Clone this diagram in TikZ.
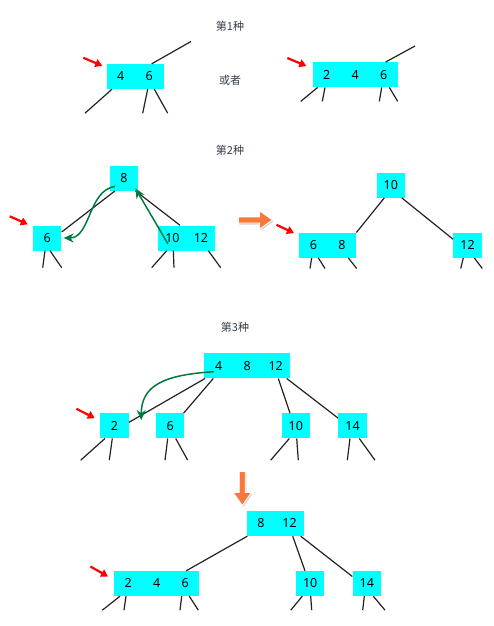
\documentclass[tikz,border=0pt]{standalone}
\usepackage{fontspec}
\setmainfont{Noto Sans}
\newfontfamily\cjk{Noto Sans CJK SC}
\usetikzlibrary{arrows.meta,shapes.arrows,shadows}
\definecolor{keyfill}{RGB}{0,255,255}
\definecolor{linkgray}{RGB}{34,34,34}
\definecolor{movegreen}{RGB}{0,122,61}
\definecolor{bigorange}{RGB}{246,121,58}
\definecolor{captgray}{RGB}{52,60,72}
\newcommand{\kc}[1]{\makebox[28.5pt]{#1}}
\tikzset{
  bnode/.style={fill=keyfill,inner sep=0pt,minimum width=28.5pt,minimum height=25pt,font=\fontsize{12.5}{14}\selectfont},
  link/.style={draw=linkgray,line width=1.2pt},
  redptr/.style={draw=red,line width=2.2pt,-{Triangle[width=8pt,length=7pt]}},
  movearr/.style={draw=movegreen,line width=1.5pt,-{Stealth[width=9pt,length=10pt]}},
  bigarr/.style={single arrow,fill=bigorange,draw=white,line width=0.8pt,minimum height=34pt,inner xsep=0pt,inner ysep=2.6pt,single arrow head extend=6pt,single arrow tip angle=70,drop shadow={opacity=0.35,shadow xshift=1pt,shadow yshift=-1.5pt}},
  capt/.style={font=\cjk\fontsize{11}{13}\selectfont,text=captgray}
}
\begin{document}
\begin{tikzpicture}[x=1pt,y=-1pt]
\useasboundingbox (0,0) rectangle (494,626);

\node[capt] (t1) at (230,26) {第1种};
\node[capt] (alt) at (230,80) {或者};
\node[bnode] (a46) at (135,76.5) {\kc{4}\kc{6}};
\node[bnode] (b246) at (355.3,74.7) {\kc{2}\kc{4}\kc{6}};
\draw[link] ([xshift=16.7pt]a46.north) -- ++(39.3,-22.3);
\draw[link] ([xshift=-23pt]a46.south) -- ++(-27,24);
\draw[link] ([xshift=12.7pt]a46.south) -- ++(-5,24);
\draw[link] ([xshift=19.3pt]a46.south) -- ++(13.4,24);
\draw[link] ([xshift=30.4pt]b246.north) -- ++(29.3,-16);
\draw[link] ([xshift=-37.6pt]b246.south) -- ++(-17,14);
\draw[link] ([xshift=-30.3pt]b246.south) -- ++(-2.7,14);
\draw[link] ([xshift=26.4pt]b246.south) -- ++(-2.4,14);
\draw[link] ([xshift=34pt]b246.south) -- ++(8.4,14);
\draw[redptr] ([shift={(-23pt,6pt)}]a46.north west) -- ([shift={(-4pt,-2pt)}]a46.north west);
\draw[redptr] ([shift={(-25pt,4pt)}]b246.north west) -- ([shift={(-6pt,-4pt)}]b246.north west);

\node[capt] (t2) at (230,150) {第2种};
\node[bnode] (n8) at (124,178.2) {8};
\node[bnode] (n6) at (47.2,238) {6};
\node[bnode] (n1012) at (186.7,238) {\kc{10}\kc{12}};
\draw[link] ([xshift=-9pt]n8.south) -- ([yshift=6pt]n6.east);
\draw[link] ([xshift=11.5pt]n8.south) -- ([xshift=-6.7pt]n1012.north);
\draw[link] ([xshift=-2.2pt]n6.south) -- ++(-2.3,17);
\draw[link] ([xshift=2.8pt]n6.south) -- ++(11.7,17);
\draw[link] ([xshift=-20pt]n1012.south) -- ++(-15,17);
\draw[link] ([xshift=-13.4pt]n1012.south) -- ++(0.7,17);
\draw[link] ([xshift=21.6pt]n1012.south) -- ++(12.4,17);
\draw[movearr] ([shift={(-9pt,4.5pt)}]n8.south) .. controls +(-27,4) and +(27,0) .. ([xshift=2pt]n6.east);
\draw[movearr] ([shift={(-18.7pt,-6pt)}]n1012.center) -- ([shift={(-3pt,2.5pt)}]n8.south east);
\draw[redptr] ([shift={(-23pt,9pt)}]n6.north west) -- ([shift={(-5pt,1pt)}]n6.north west);

\node[bigarr] (go1) at (253.3,220) {};
\node[bnode] (m10) at (390.8,185.2) {10};
\node[bnode] (m68) at (327.7,245.2) {\kc{6}\kc{8}};
\node[bnode] (m12) at (467.5,245.2) {12};
\draw[link] ([xshift=-6.5pt]m10.south) -- (m68.north east);
\draw[link] ([xshift=11pt]m10.south) -- ([yshift=6pt]m12.west);
\draw[link] ([xshift=-16pt]m68.south) -- ++(-1.7,10.6);
\draw[link] ([xshift=-9.4pt]m68.south) -- ++(6.7,10.6);
\draw[link] ([xshift=20.6pt]m68.south) -- ++(8.4,10.6);
\draw[link] ([xshift=-4.2pt]m12.south) -- ++(-2.6,10.6);
\draw[link] ([xshift=6.8pt]m12.south) -- ++(8,10.6);
\draw[redptr] ([shift={(-22.5pt,7.7pt)}]m68.north west) -- ([shift={(-5pt,-0.6pt)}]m68.north west);

\node[capt] (t3) at (235,327) {第3种};
\node[bnode] (p4812) at (247.2,365.8) {\kc{4}\kc{8}\kc{12}};
\node[bnode] (c2) at (114.5,425.8) {2};
\node[bnode] (c6) at (170.2,425.8) {6};
\node[bnode] (c10) at (295.8,425.8) {10};
\node[bnode] (c14) at (352.5,425.8) {14};
\draw[link] ([xshift=-42.2pt]p4812.south) -- ([yshift=3.5pt]c2.east);
\draw[link] ([xshift=-33.9pt]p4812.south) -- ([xshift=-1pt]c6.north east);
\draw[link] ([xshift=31.1pt]p4812.south) -- ([xshift=-5.8pt]c10.north);
\draw[link] ([xshift=39.5pt]p4812.south) -- ([yshift=-5pt]c14.north west);
\draw[link] ([xshift=-9.5pt]c2.south) -- ++(-24.3,21.7);
\draw[link] ([xshift=-2.2pt]c2.south) -- ++(-3,21.7);
\draw[link] ([xshift=-2.5pt]c6.south) -- ++(-2.7,21.7);
\draw[link] ([xshift=5.5pt]c6.south) -- ++(12,21.7);
\draw[link] ([xshift=-6.5pt]c10.south) -- ++(-18.6,21.7);
\draw[link] ([xshift=0.9pt]c10.south) -- ++(1.6,21.7);
\draw[link] ([xshift=-2.5pt]c14.south) -- ++(-2.7,21.7);
\draw[link] ([xshift=6.8pt]c14.south) -- ++(15.7,21.7);
\draw[movearr] ([shift={(-33.2pt,-5.9pt)}]p4812.center) .. controls +(-49,3) and +(0,-35) .. ([shift={(12.3pt,5.8pt)}]c2.east);
\draw[redptr] ([shift={(-23.6pt,4.3pt)}]c2.north west) -- ([shift={(-5.3pt,-5pt)}]c2.north west);

\node[bigarr,rotate=-90] (go2) at (242.3,486.3) {};
\node[bnode] (q812) at (275.3,523.5) {\kc{8}\kc{12}};
\node[bnode] (r246) at (156.7,583.5) {\kc{2}\kc{4}\kc{6}};
\node[bnode] (r10) at (310.2,583.5) {10};
\node[bnode] (r14) at (366.8,583.5) {14};
\draw[link] ([xshift=-28pt]q812.south) -- ([xshift=-13.5pt]r246.north east);
\draw[link] ([xshift=17.4pt]q812.south) -- ([xshift=-5.2pt]r10.north);
\draw[link] ([xshift=25.4pt]q812.south) -- ([yshift=-5.7pt]r14.north west);
\draw[link] ([xshift=-36.7pt]r246.south) -- ++(-17.7,14);
\draw[link] ([xshift=-30.7pt]r246.south) -- ++(-2,14);
\draw[link] ([xshift=25pt]r246.south) -- ++(-1.7,14);
\draw[link] ([xshift=32.6pt]r246.south) -- ++(9,14);
\draw[link] ([xshift=-7.9pt]r10.south) -- ++(-11.6,14);
\draw[link] ([xshift=0.5pt]r10.south) -- ++(1,14);
\draw[link] ([xshift=-2.5pt]r14.south) -- ++(-1.6,14);
\draw[link] ([xshift=6.5pt]r14.south) -- ++(11.7,14);
\draw[redptr] ([shift={(-23.3pt,4.3pt)}]r246.north west) -- ([shift={(-5.7pt,-5.7pt)}]r246.north west);
\end{tikzpicture}
\end{document}
